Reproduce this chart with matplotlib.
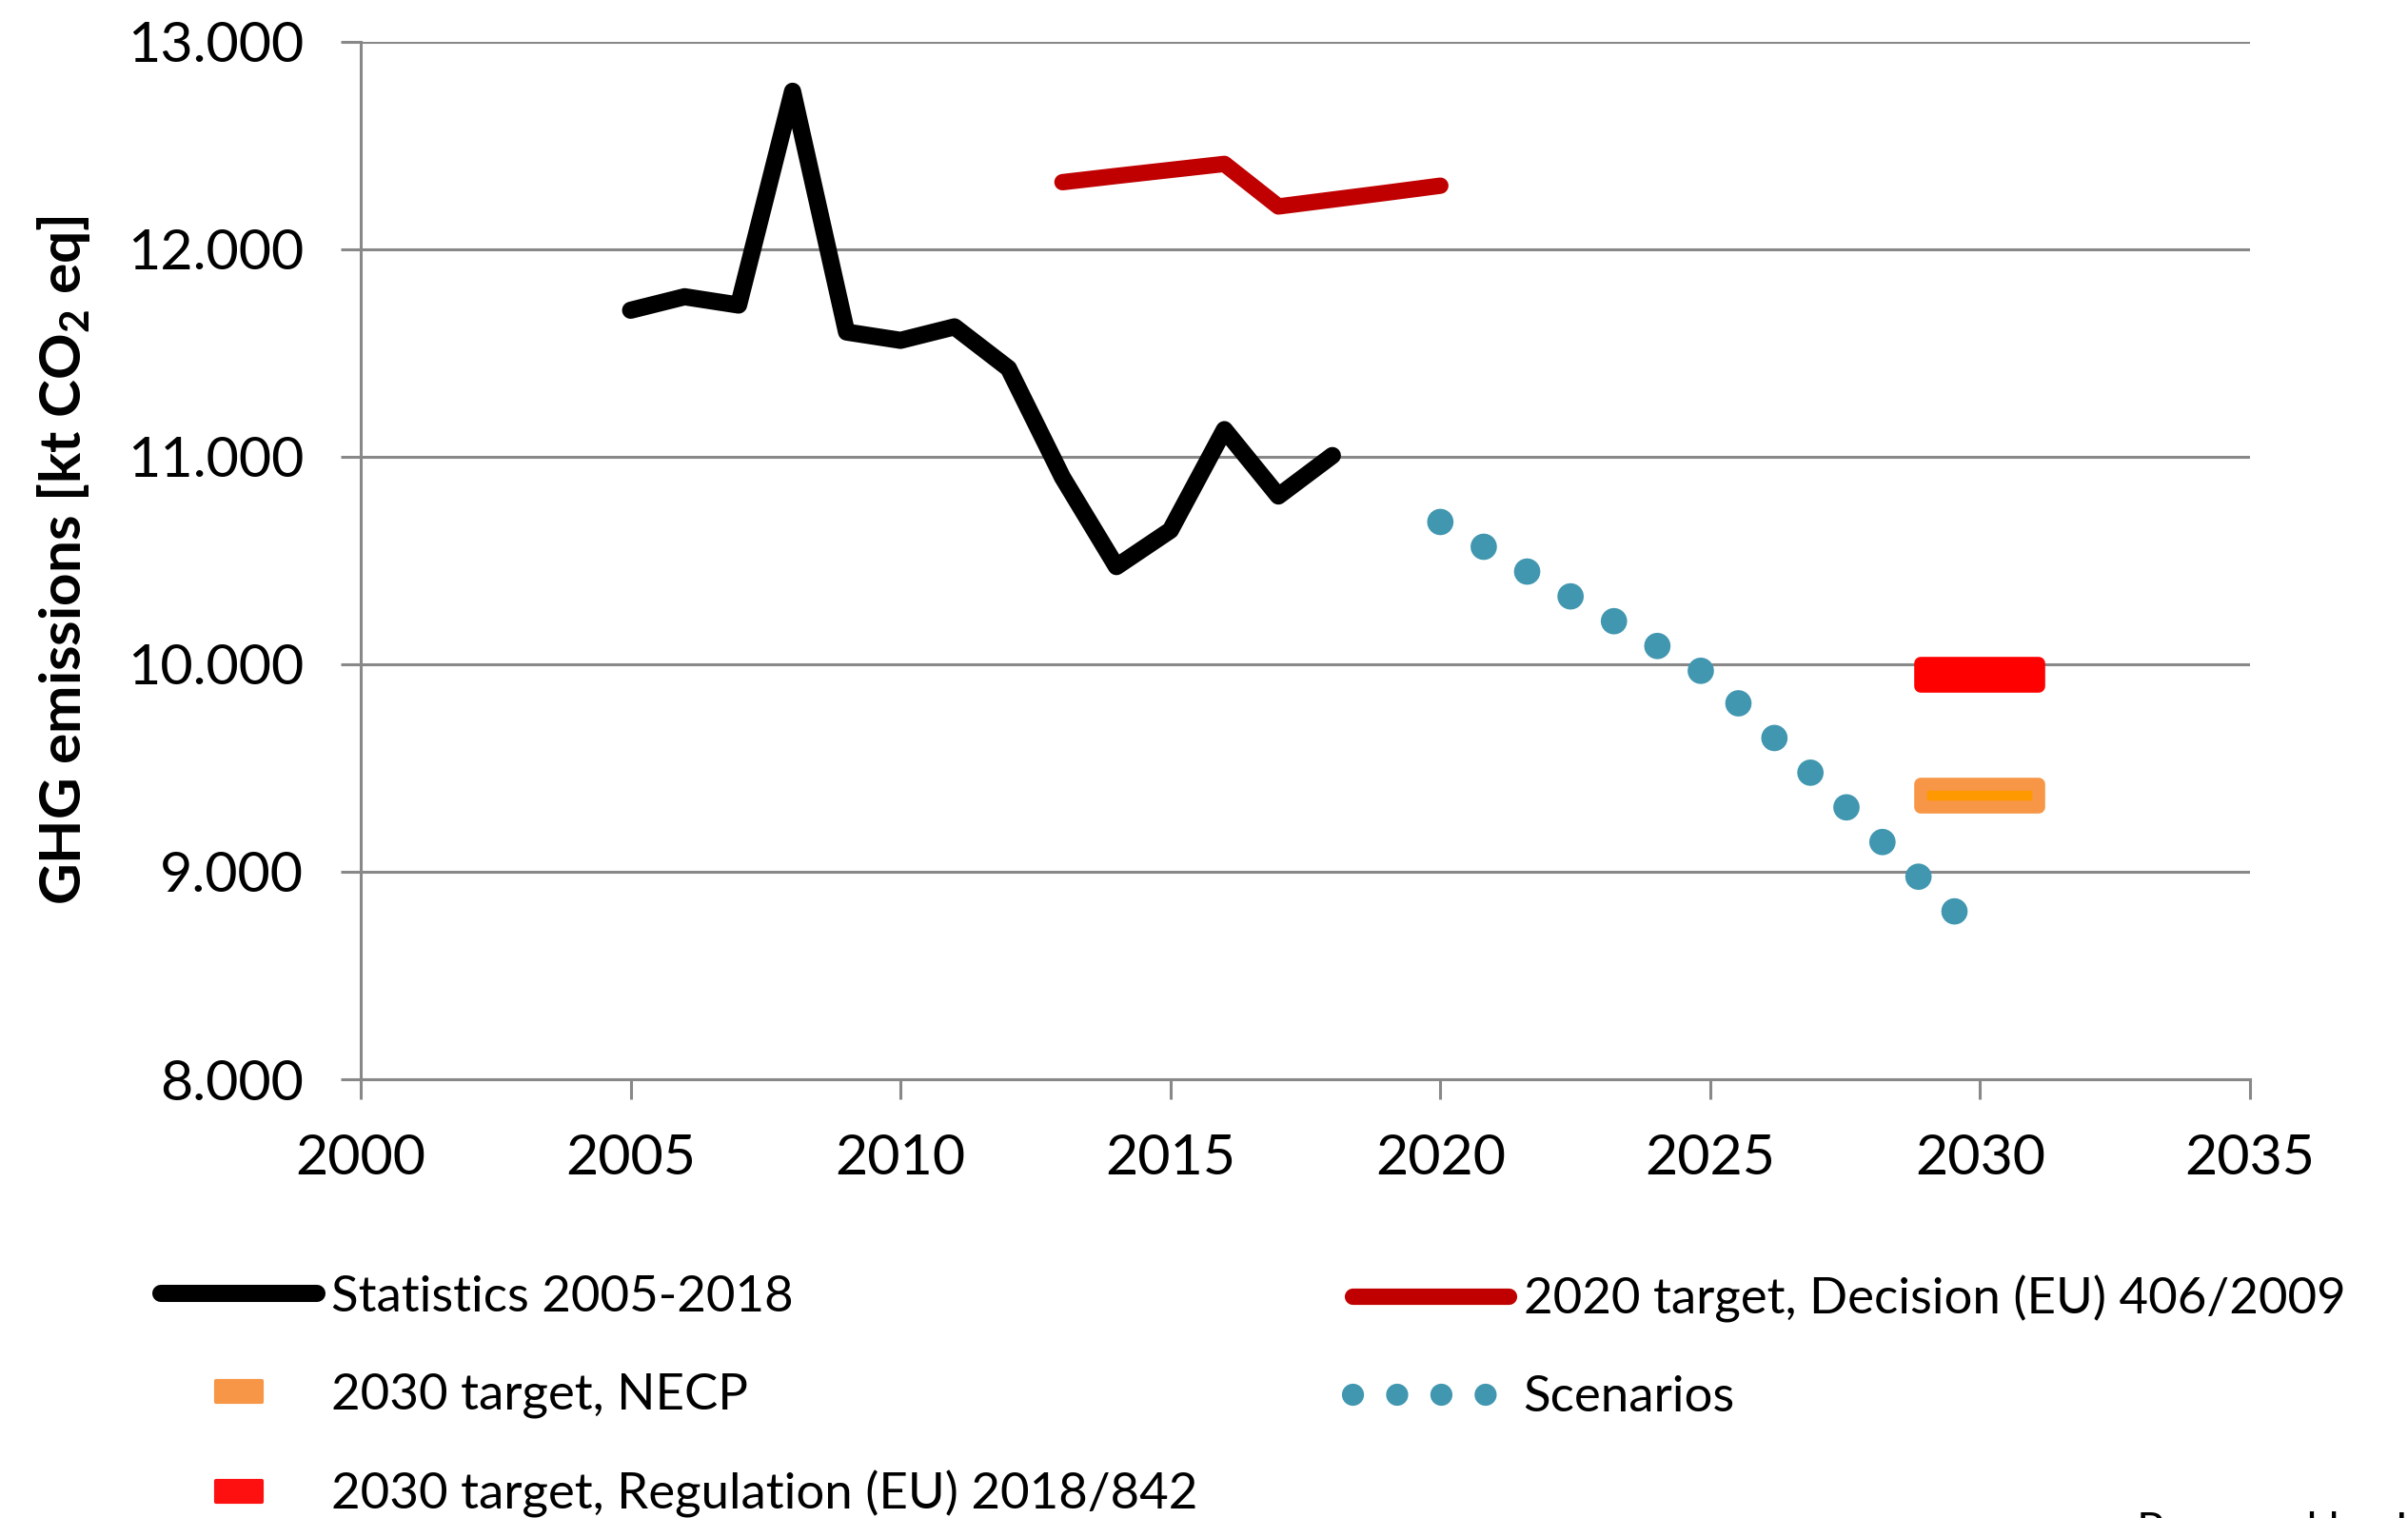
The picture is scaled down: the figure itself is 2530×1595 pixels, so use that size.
import numpy as np
import matplotlib
matplotlib.use("Agg")
import matplotlib.pyplot as plt
from matplotlib.lines import Line2D
from matplotlib.path import Path
from matplotlib.markers import MarkerStyle
from matplotlib.ticker import FuncFormatter

plt.rcParams['font.family'] = ['Lato', 'DejaVu Sans']
plt.rcParams['mathtext.fontset'] = 'custom'
plt.rcParams['mathtext.rm'] = 'Lato'
plt.rcParams['mathtext.bf'] = 'Lato:bold'
plt.rcParams['mathtext.default'] = 'bf'

# podatki
stat_years = [2005, 2006, 2007, 2008, 2009, 2010, 2011, 2012, 2013, 2014, 2015, 2016, 2017, 2018]
stat_values = [11705, 11770, 11730, 12760, 11600, 11560, 11625, 11425, 10900, 10470, 10645, 11130, 10810, 11005]

target2020_years = [2013, 2014, 2015, 2016, 2017, 2018, 2019, 2020]
target2020_values = [12322, 12352, 12381, 12410, 12205, 12238, 12271, 12305]

scen_years = [2020, 2025, 2030]
scen_values = [10685, 9942, 8690]

necp_year = [2030]
necp_value = [9365]
reg_year = [2030]
reg_value = [9948]

labels = ["Statistics 2005-2018", "2030 target, NECP", "2030 target, Regulation (EU) 2018/842",
          "2020 target, Decision (EU) 406/2009", "Scenarios"]

grey = "#888888"
teal = "#4197B0"

fig = plt.figure(figsize=(12.65, 7.975), dpi=200)
ax = fig.add_axes([0.1498, 0.289, 0.7846, 0.6837])

# oznaka ciljev - zaobljen pravokotnik
def rect_marker(h):
    p = Path([(-1, -h), (1, -h), (1, h), (-1, h), (-1, -h)],
             [Path.MOVETO, Path.LINETO, Path.LINETO, Path.LINETO, Path.CLOSEPOLY])
    return MarkerStyle(p, joinstyle="round")

bar_marker = rect_marker(0.195)
small_marker = rect_marker(0.45)

ax.plot(stat_years, stat_values, color="black", lw=6.5, solid_joinstyle="round",
        solid_capstyle="round", zorder=4)
ax.plot(target2020_years, target2020_values, color="#C00000", lw=6.2,
        solid_joinstyle="round", solid_capstyle="round", zorder=4)
ax.plot(scen_years, scen_values, color=teal, lw=10, linestyle=(0, (0.001, 1.89)),
        dash_capstyle="round", zorder=4)
ax.plot(reg_year, reg_value, linestyle="none", marker=bar_marker, markersize=44.5,
        markerfacecolor="#FF0000", markeredgecolor="#FF0000", markeredgewidth=4.9, zorder=5)
ax.plot(necp_year, necp_value, linestyle="none", marker=bar_marker, markersize=44.5,
        markerfacecolor="#FF9900", markeredgecolor="#F79646", markeredgewidth=4.9, zorder=5)

ax.set_xlim(2000, 2035)
ax.set_ylim(8000, 13000)
ax.set_xticks(range(2000, 2036, 5))
ax.set_yticks(range(8000, 13001, 1000))
ax.yaxis.set_major_formatter(FuncFormatter(lambda v, p: f"{int(v):,}".replace(",", ".")))
ax.grid(axis="y", color=grey, lw=1.1)
ax.set_axisbelow(True)
for s in ["top", "right"]:
    ax.spines[s].set_visible(False)
for s in ["left", "bottom"]:
    ax.spines[s].set_color(grey)
    ax.spines[s].set_linewidth(1.1)
ax.tick_params(axis="both", length=7.5, width=1.1, color=grey, labelsize=21.3)
ax.tick_params(axis="y", pad=14)
ax.tick_params(axis="x", pad=13)

ax.set_ylabel(r"GHG emissions [kt CO$_2$ eq]", fontsize=21.7, fontweight="bold")
ax.yaxis.set_label_coords(-0.142, 0.5)

# legenda
h_stat = Line2D([], [], color="black", lw=6.5, solid_capstyle="round")
h_necp = Line2D([], [], linestyle="none", marker=small_marker, markersize=17,
                markerfacecolor="#F79646", markeredgecolor="#F79646", markeredgewidth=1.5)
h_reg = Line2D([], [], linestyle="none", marker=small_marker, markersize=17,
               markerfacecolor="#FF1010", markeredgecolor="#FF1010", markeredgewidth=1.5)
h_t20 = Line2D([], [], color="#C00000", lw=6.2, solid_capstyle="round")
h_scen = Line2D([], [], color=teal, lw=8.4, linestyle=(0, (0.001, 1.99)), dash_capstyle="round")

leg_kw = dict(loc="upper left", fontsize=19, frameon=False, handlelength=3.1,
              handletextpad=0.3, labelspacing=1.05, borderpad=0, borderaxespad=0)
leg1 = fig.legend([h_stat, h_necp, h_reg], labels[:3], bbox_to_anchor=(0.0668, 0.160), **leg_kw)
leg2 = fig.legend([h_t20, h_scen], labels[3:], bbox_to_anchor=(0.5617, 0.160), **leg_kw)

fig.text(0.8875, 0.0044, "Prepared by JSI", fontsize=17, va="top", ha="left")

fig.savefig("out.png", dpi=200)
